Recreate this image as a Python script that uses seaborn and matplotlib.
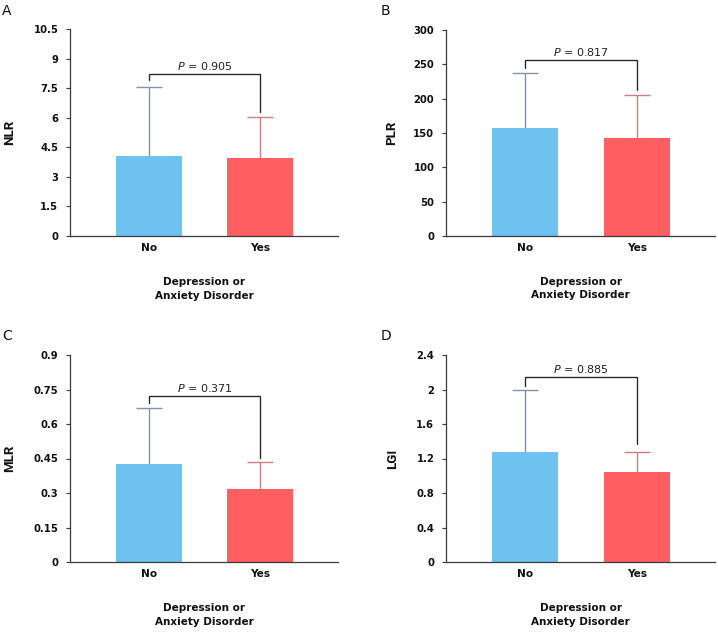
import matplotlib
matplotlib.use("Agg")
import matplotlib.pyplot as plt
import seaborn as sns
import pandas as pd

# ---- data ----
groups = ["No", "Yes"]
nlr_mean = [4.06, 3.98]
nlr_sd = [3.50, 2.07]
plr_mean = [157, 142]
plr_sd = [81, 63]
mlr_mean = [0.424, 0.319]
mlr_sd = [0.244, 0.114]
lgi_mean = [1.27, 1.045]
lgi_sd = [0.72, 0.235]
p_values = ["0.905", "0.817", "0.371", "0.885"]
y_labels = ["NLR", "PLR", "MLR", "LGI"]
panel_letters = ["A", "B", "C", "D"]
y_ticks = [
    [0, 1.5, 3, 4.5, 6, 7.5, 9, 10.5],
    [0, 50, 100, 150, 200, 250, 300],
    [0, 0.15, 0.3, 0.45, 0.6, 0.75, 0.9],
    [0, 0.4, 0.8, 1.2, 1.6, 2, 2.4],
]
y_tick_labels = [
    ["0", "1.5", "3", "4.5", "6", "7.5", "9", "10.5"],
    ["0", "50", "100", "150", "200", "250", "300"],
    ["0", "0.15", "0.3", "0.45", "0.6", "0.75", "0.9"],
    ["0", "0.4", "0.8", "1.2", "1.6", "2", "2.4"],
]
# bracket: (left end, top, right end)
brackets = [
    (7.93, 8.23, 6.30),
    (244, 256, 213),
    (0.691, 0.723, 0.454),
    (2.04, 2.14, 1.37),
]
x_title = "Depression or\nAnxiety Disorder"

means = [nlr_mean, plr_mean, mlr_mean, lgi_mean]
sds = [nlr_sd, plr_sd, mlr_sd, lgi_sd]

sns.set_theme(style="ticks")
plt.rcParams["font.family"] = ["DejaVu Sans"]
plt.rcParams["mathtext.fontset"] = "dejavusans"

bar_colors = ["#6DC2F0", "#FF5F61"]
err_colors = ["#8093a6", "#c97d85"]
spine_col = "#3a3a3a"

fig = plt.figure(figsize=(7.18, 6.32), dpi=100)
positions = [
    [70 / 718, (632 - 236) / 632, 268 / 718, 207 / 632],
    [446 / 718, (632 - 236) / 632, 269 / 718, 206 / 632],
    [70 / 718, (632 - 562) / 632, 268 / 718, 207 / 632],
    [446 / 718, (632 - 562) / 632, 269 / 718, 207 / 632],
]
letter_pos = [(2 / 718, 1 - 4 / 632), (381 / 718, 1 - 4 / 632),
              (2 / 718, 1 - 329 / 632), (381 / 718, 1 - 329 / 632)]
ylab_x = [-0.202, -0.178, -0.202, -0.176]

for i in range(4):
    ax = fig.add_axes(positions[i])
    df = pd.DataFrame({"group": groups, "value": means[i]})
    sns.barplot(data=df, x="group", y="value", hue="group",
                palette=bar_colors, width=0.59, errorbar=None,
                legend=False, ax=ax, saturation=1, linewidth=0)
    for j in range(2):
        ax.errorbar(j, means[i][j], yerr=sds[i][j], color=err_colors[j],
                    capsize=9.5, elinewidth=1.0, capthick=1.0, zorder=0.5,
                    fmt="none")
    l, t, r = brackets[i]
    ax.plot([0, 0, 1, 1], [l, t, t, r], color="#2b2b2b", lw=1.0,
            solid_joinstyle="miter")
    ax.annotate(r"$\it{P}$ = " + p_values[i], xy=(0.5, t), xytext=(0, 1.5),
                textcoords="offset points", ha="center", va="bottom",
                fontsize=8, color="#222222")
    ax.set_xlim(-0.71, 1.70)
    ax.set_ylim(0, y_ticks[i][-1])
    ax.set_yticks(y_ticks[i])
    ax.set_yticklabels(y_tick_labels[i], fontweight="bold", fontsize=7.2)
    for lab in ax.get_xticklabels():
        lab.set_fontweight("bold")
        lab.set_fontsize(7.6)
    ax.tick_params(axis="x", length=0, pad=5, colors="#111111")
    ax.tick_params(axis="y", length=3, width=0.8, color=spine_col,
                   pad=5.5, labelcolor="#111111")
    for s in ["top", "right"]:
        ax.spines[s].set_visible(False)
    for s in ["left", "bottom"]:
        ax.spines[s].set_color(spine_col)
        ax.spines[s].set_linewidth(0.9)
    ax.set_ylabel(y_labels[i], fontweight="bold", fontsize=9.5, color="#111111",
                  family=["Roboto", "DejaVu Sans"])
    ax.yaxis.set_label_coords(ylab_x[i], 0.5)
    ax.set_xlabel(x_title, fontweight="bold", fontsize=7.5, color="#111111",
                  linespacing=1.4)
    ax.xaxis.set_label_coords(0.5, -0.2)
    fig.text(letter_pos[i][0], letter_pos[i][1], panel_letters[i],
             fontsize=10, va="top", ha="left", color="#111111")

fig.savefig("out.png", dpi=100, facecolor="white")
